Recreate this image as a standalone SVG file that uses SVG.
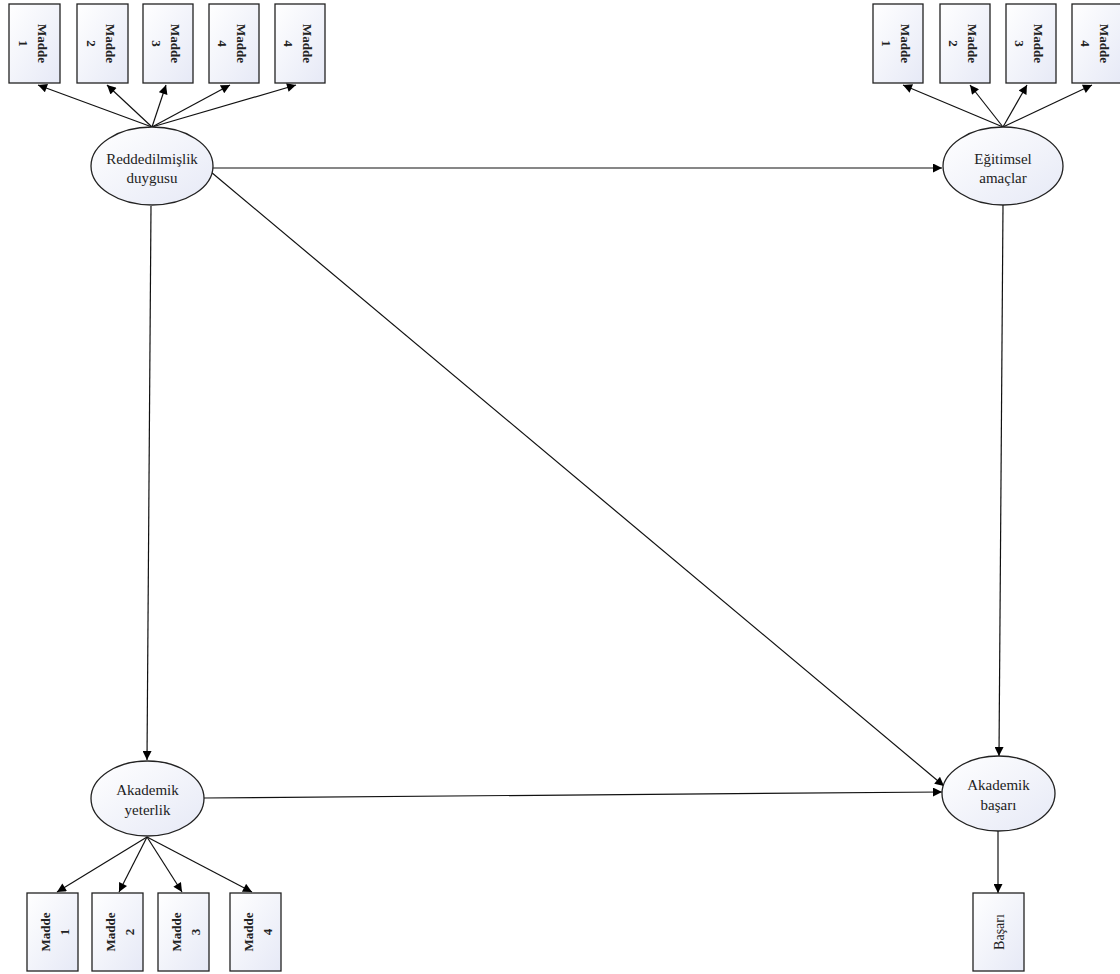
<svg xmlns="http://www.w3.org/2000/svg" width="1120" height="974" viewBox="0 0 1120 974">
<defs>
<linearGradient id="fillg" x1="0" y1="0" x2="1" y2="1">
<stop offset="0" stop-color="#ffffff"/>
<stop offset="1" stop-color="#e6e9f6"/>
</linearGradient>
<marker id="arr" viewBox="0 0 10 10" refX="10" refY="5" markerWidth="11" markerHeight="9" markerUnits="userSpaceOnUse" orient="auto">
<path d="M0,0 L10,5 L0,10 z" fill="#000"/>
</marker>
<style>
.box{fill:url(#fillg);stroke:#222;stroke-width:1.3}
.ell{fill:url(#fillg);stroke:#222;stroke-width:1.3}
.t{font-family:"Liberation Serif","Times New Roman",serif;font-size:15px;fill:#222;text-anchor:middle}
.m{font-family:"Liberation Serif","Times New Roman",serif;font-size:13px;font-weight:bold;fill:#222;text-anchor:middle}
.s{font-family:"Liberation Serif","Times New Roman",serif;font-size:14px;fill:#222;text-anchor:middle}
.c{stroke:#111;stroke-width:1.2;fill:none;marker-end:url(#arr)}
</style>
</defs>
<rect width="1120" height="974" fill="#fff"/>
<g id="connectors">
<line class="c" x1="152" y1="127" x2="38" y2="85"/>
<line class="c" x1="152" y1="127" x2="107" y2="85"/>
<line class="c" x1="152" y1="127" x2="166" y2="85"/>
<line class="c" x1="152" y1="127" x2="230" y2="85"/>
<line class="c" x1="152" y1="127" x2="296" y2="85"/>
<line class="c" x1="1003" y1="127" x2="903" y2="85"/>
<line class="c" x1="1003" y1="127" x2="970" y2="85"/>
<line class="c" x1="1003" y1="127" x2="1027" y2="85"/>
<line class="c" x1="1003" y1="127" x2="1092" y2="85"/>
<line class="c" x1="147" y1="837" x2="57" y2="892"/>
<line class="c" x1="147" y1="837" x2="119" y2="892"/>
<line class="c" x1="147" y1="837" x2="182" y2="892"/>
<line class="c" x1="147" y1="837" x2="252" y2="892"/>
<line class="c" x1="213" y1="168" x2="942" y2="168"/>
<line class="c" x1="151" y1="206" x2="147" y2="760"/>
<line class="c" x1="1003" y1="205" x2="999" y2="756"/>
<line class="c" x1="211" y1="172" x2="944" y2="786"/>
<line class="c" x1="204" y1="798" x2="942" y2="792"/>
<line class="c" x1="998" y1="831" x2="998" y2="893"/>
</g>
<g id="n-rd"><ellipse class="ell" cx="152" cy="166" rx="61" ry="39"/><text class="t" x="152" y="164">Reddedilmişlik</text><text class="t" x="152" y="183">duygusu</text></g>
<g id="n-ea"><ellipse class="ell" cx="1003" cy="166" rx="60" ry="39"/><text class="t" x="1003" y="164">Eğitimsel</text><text class="t" x="1003" y="183">amaçlar</text></g>
<g id="n-ay"><ellipse class="ell" cx="147.5" cy="798.5" rx="56.5" ry="37.5"/><text class="t" x="147.5" y="795">Akademik</text><text class="t" x="147.5" y="815">yeterlik</text></g>
<g id="n-ab"><ellipse class="ell" cx="998.5" cy="793.5" rx="56.5" ry="37.5"/><text class="t" x="998.5" y="790">Akademik</text><text class="t" x="998.5" y="810">başarı</text></g>
<g id="r1"><rect class="box" x="9" y="4" width="51" height="79"/><text class="m" transform="translate(34.5,43.5) rotate(90)"><tspan x="0" y="-3">Madde</tspan><tspan x="0" y="16">1</tspan></text></g>
<g id="r2"><rect class="box" x="77" y="4" width="51" height="79"/><text class="m" transform="translate(102.5,43.5) rotate(90)"><tspan x="0" y="-3">Madde</tspan><tspan x="0" y="16">2</tspan></text></g>
<g id="r3"><rect class="box" x="143" y="4" width="50" height="79"/><text class="m" transform="translate(168,43.5) rotate(90)"><tspan x="0" y="-3">Madde</tspan><tspan x="0" y="16">3</tspan></text></g>
<g id="r4"><rect class="box" x="209" y="4" width="50" height="79"/><text class="m" transform="translate(234,43.5) rotate(90)"><tspan x="0" y="-3">Madde</tspan><tspan x="0" y="16">4</tspan></text></g>
<g id="r5"><rect class="box" x="275" y="4" width="50" height="79"/><text class="m" transform="translate(300,43.5) rotate(90)"><tspan x="0" y="-3">Madde</tspan><tspan x="0" y="16">4</tspan></text></g>
<g id="e1"><rect class="box" x="873" y="4" width="50" height="79"/><text class="m" transform="translate(898,43.5) rotate(90)"><tspan x="0" y="-3">Madde</tspan><tspan x="0" y="16">1</tspan></text></g>
<g id="e2"><rect class="box" x="940" y="4" width="50" height="79"/><text class="m" transform="translate(965,43.5) rotate(90)"><tspan x="0" y="-3">Madde</tspan><tspan x="0" y="16">2</tspan></text></g>
<g id="e3"><rect class="box" x="1006" y="4" width="50" height="79"/><text class="m" transform="translate(1031,43.5) rotate(90)"><tspan x="0" y="-3">Madde</tspan><tspan x="0" y="16">3</tspan></text></g>
<g id="e4"><rect class="box" x="1072" y="4" width="50" height="79"/><text class="m" transform="translate(1097,43.5) rotate(90)"><tspan x="0" y="-3">Madde</tspan><tspan x="0" y="16">4</tspan></text></g>
<g id="y1"><rect class="box" x="27" y="893" width="51" height="78"/><text class="m" transform="translate(52.5,932) rotate(-90)"><tspan x="0" y="-3">Madde</tspan><tspan x="0" y="16">1</tspan></text></g>
<g id="y2"><rect class="box" x="92" y="893" width="51" height="78"/><text class="m" transform="translate(117.5,932) rotate(-90)"><tspan x="0" y="-3">Madde</tspan><tspan x="0" y="16">2</tspan></text></g>
<g id="y3"><rect class="box" x="158" y="893" width="51" height="78"/><text class="m" transform="translate(183.5,932) rotate(-90)"><tspan x="0" y="-3">Madde</tspan><tspan x="0" y="16">3</tspan></text></g>
<g id="y4"><rect class="box" x="230" y="893" width="51" height="78"/><text class="m" transform="translate(255.5,932) rotate(-90)"><tspan x="0" y="-3">Madde</tspan><tspan x="0" y="16">4</tspan></text></g>
<g id="b1"><rect class="box" x="973" y="893" width="51" height="78"/><text class="s" transform="translate(998.5,932) rotate(-90)"><tspan x="0" y="5">Başarı</tspan></text></g>
</svg>
